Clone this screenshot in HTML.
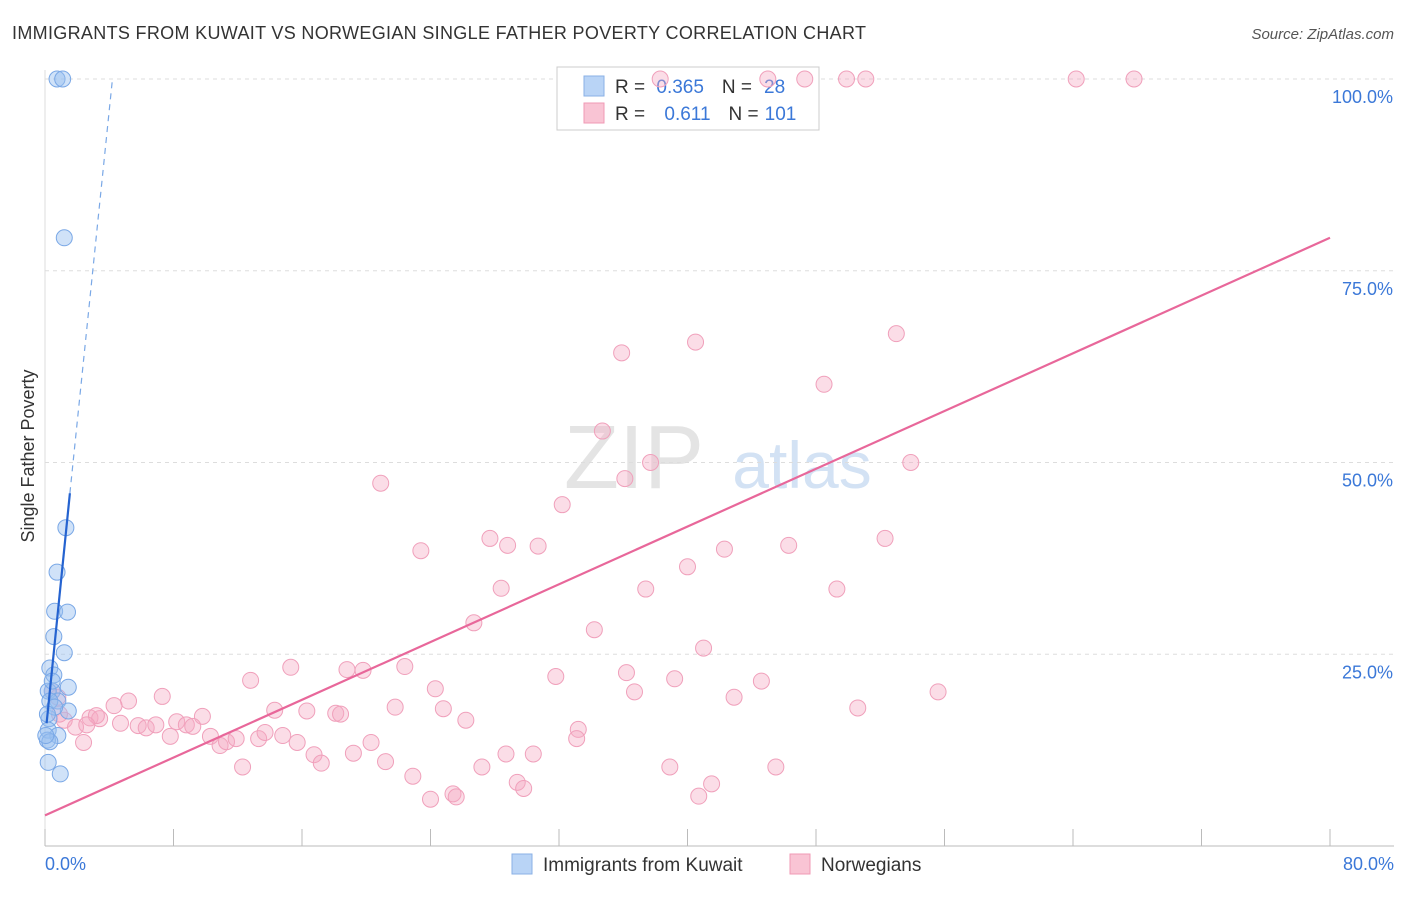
<!DOCTYPE html>
<html><head><meta charset="utf-8"><style>
body{margin:0;background:#fff;font-family:"Liberation Sans",sans-serif;}
svg text{font-family:"Liberation Sans",sans-serif;}
</style></head><body>
<svg id="c" width="1406" height="892">
<text x="12" y="39" font-size="18" fill="#333" textLength="854">IMMIGRANTS FROM KUWAIT VS NORWEGIAN SINGLE FATHER POVERTY CORRELATION CHART</text>
<text x="1394" y="39" font-size="15" fill="#555" text-anchor="end" font-style="italic">Source: ZipAtlas.com</text>
<text x="634" y="488" font-size="90" fill="#e4e4e4" font-family="Liberation Serif" text-anchor="middle">ZIP</text>
<text x="802" y="488" font-size="66" fill="#d3e2f4" text-anchor="middle">atlas</text>
<text x="34" y="456" font-size="18" fill="#333" text-anchor="middle" transform="rotate(-90 34 456)">Single Father Poverty</text>
<g id="grid"></g>
<rect x="557" y="67" width="262" height="63" fill="#fff" stroke="#ccc"/>
<rect x="584" y="76" width="20" height="20" fill="#b9d4f6" stroke="#8ab0e6"/>
<rect x="584" y="103" width="20" height="20" fill="#f9c4d4" stroke="#f09ab5"/>
<text x="615" y="93" font-size="19" fill="#333">R = <tspan fill="#3b78d8" dx="6">0.365</tspan><tspan dx="18" fill="#333">N =</tspan><tspan dx="12" fill="#3b78d8">28</tspan></text>
<text x="615" y="120" font-size="19" fill="#333">R = <tspan fill="#3b78d8" dx="14">0.611</tspan><tspan dx="18" fill="#333">N =</tspan><tspan dx="6" fill="#3b78d8">101</tspan></text>
<g id="marks"></g>
<rect x="512" y="854" width="20" height="20" fill="#b9d4f6" stroke="#8ab0e6"/>
<text x="543" y="871" font-size="19" fill="#333">Immigrants from Kuwait</text>
<rect x="790" y="854" width="20" height="20" fill="#f9c4d4" stroke="#f09ab5"/>
<text x="821" y="871" font-size="19" fill="#333">Norwegians</text>
</svg>
<script>
const xTicks=[0,8,16,24,32,40,48,56,64,72,80];
const yTicks=[25,50,75,100];
const kuwaitX=[0.75,1.1,1.2,1.3,0.75,0.6,1.4,0.55,1.2,0.3,0.55,0.45,1.45,0.2,0.8,1.45,0.25,0.2,0.8,0.15,0.3,0.2,0.95,0.45,0.3,0.05,0.6,0.15];
const kuwaitY=[100,100,79.3,41.5,35.7,30.6,30.5,27.3,25.2,23.2,22.3,20.2,20.7,20.2,18.9,17.6,16.6,15.1,14.4,13.8,13.6,10.9,9.4,21.5,18.9,14.4,18.1,17.2];
const norX=[38.3,45,47.3,49.9,51.1,64.2,67.8,35.9,40.5,53,48.5,34.7,37.7,53.9,36.1,20.9,32.2,23.4,27.7,28.8,30.7,42.3,46.3,52.3,40,28.4,37.4,49.3,26.7,34.2,41,15.3,18.8,19.8,22.4,36.2,31.8,39.2,44.6,12.8,24.3,36.7,42.9,55.6,7.3,5.2,4.3,14.3,16.3,18.1,18.4,21.8,24.8,50.6,9.8,2.8,3.4,4.7,5.8,6.3,6.9,8.2,8.8,9.2,3.2,1.2,1.9,2.6,0.9,7.8,10.3,10.9,11.3,11.9,13.3,13.7,14.8,15.7,16.75,17.2,19.2,20.3,21.2,26.2,33.2,33.1,28.7,30.4,2.4,12.3,22.9,24,25.4,25.6,27.2,29.4,29.8,38.9,41.5,40.7,45.5,0.45,0.8];
const norY=[100,100,100,100,100,100,100,64.3,65.7,66.8,60.2,54.1,50,50,47.9,47.3,44.5,38.5,40.1,39.2,39.1,38.7,39.2,40.1,36.4,33.6,33.5,33.5,29.1,28.2,25.8,23.3,23,22.9,23.4,22.6,22.1,21.8,21.5,21.6,20.5,20.1,19.4,20.1,19.5,18.9,18.3,17.7,17.6,17.3,17.2,18.1,17.9,18,16.9,16.7,16.6,16,15.7,15.4,15.8,16.2,15.8,15.6,17,16.4,15.5,15.8,17.2,14.3,14.3,13.1,13.6,14,14,14.8,14.4,13.5,11.9,10.8,12.1,13.5,11,16.4,15.2,14,12,12,13.5,10.3,9.1,6.1,6.8,6.4,10.3,8.3,7.5,10.3,8.1,6.5,10.3,20.2,19.4];
const X=v=>45+v*16.0625, Y=v=>846-v*7.67;
const NS='http://www.w3.org/2000/svg';
function mk(t,a,p){const e=document.createElementNS(NS,t);for(const k in a)e.setAttribute(k,a[k]);p.appendChild(e);return e;}
const g=document.getElementById('grid'), m=document.getElementById('marks');
yTicks.forEach(v=>{
 const l=mk('line',{x1:45,x2:1394,y1:Y(v),y2:Y(v),stroke:'#ddd','stroke-dasharray':'4,4'},g);
 
 
 const t=mk('text',{x:1393,y:Y(v)+24,'font-size':18,fill:'#3b78d8','text-anchor':'end'},g);t.textContent=v.toFixed(1)+'%';
 
 
});
const ax=mk('line',{x1:45,x2:1394,y1:846,y2:846,stroke:'#bbb'},g);


const ay=mk('line',{x1:45,x2:45,y1:70,y2:846,stroke:'#ddd'},g);


xTicks.forEach(v=>{
 const l=mk('line',{x1:X(v),x2:X(v),y1:829,y2:846,stroke:'#bbb'},g);
 
 
});
[[0,'start',45],[80,'end',1394]].forEach(([v,a,x])=>{
 const t=mk('text',{x:x,y:870,'font-size':18,fill:'#3b78d8','text-anchor':a},g);t.textContent=v.toFixed(1)+'%';
 
 
});
norX.forEach((v,i)=>{
 const c=mk('circle',{cx:X(v),cy:Y(norY[i]),r:8,fill:'rgba(246,170,195,0.4)',stroke:'#f0a0bb','stroke-width':1},m);
 
 
});
kuwaitX.forEach((v,i)=>{
 const c=mk('circle',{cx:X(v),cy:Y(kuwaitY[i]),r:8,fill:'rgba(150,190,240,0.45)',stroke:'#7aa8e6','stroke-width':1},m);
 
 
});
const t1=mk('line',{x1:X(0),y1:Y(4),x2:X(80),y2:Y(79.3),stroke:'#e8679a','stroke-width':2.2},m);


const t2=mk('line',{x1:X(0.1),y1:Y(16),x2:X(1.55),y2:Y(46),stroke:'#2563d0','stroke-width':2.2},m);


const t3=mk('line',{x1:X(1.55),y1:Y(46),x2:X(4.2),y2:Y(100),stroke:'#7aa8e6','stroke-width':1.2,'stroke-dasharray':'6,5'},m);


</script>
</body></html>
